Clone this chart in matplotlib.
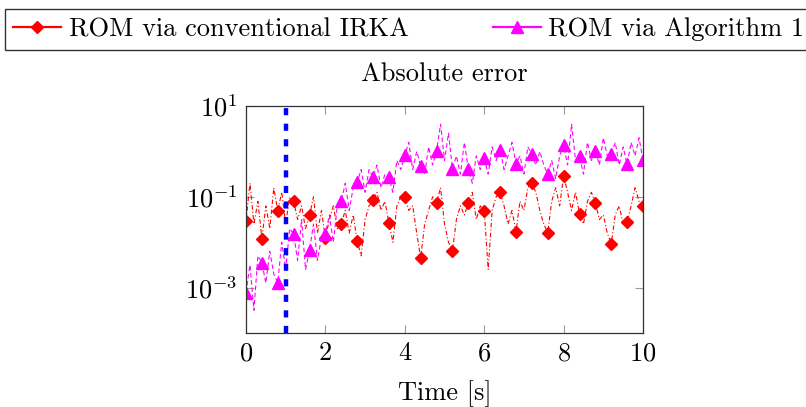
import numpy as np
import matplotlib
matplotlib.use("Agg")
import matplotlib.pyplot as plt
from matplotlib.lines import Line2D
from matplotlib.ticker import FixedLocator, NullLocator

# time grid of the stored samples [s]
t = np.arange(0, 101) * 0.1

# log10 of absolute error, ROM via conventional IRKA
irka_log10 = [
    -1.53, -0.70, -1.60, -1.10, -1.92, -1.20, -1.70, -0.80, -1.31, -0.90,
    -1.60, -1.00, -1.10, -1.50, -1.20, -1.70, -1.41, -1.00, -1.80, -1.30,
    -1.91, -1.50, -1.20, -1.70, -1.59, -1.30, -1.80, -1.40, -1.97, -2.30,
    -1.50, -1.20, -1.08, -0.90, -1.30, -1.10, -1.57, -2.00, -1.20, -1.00,
    -1.00, -1.30, -1.20, -1.80, -2.35, -1.60, -1.30, -1.00, -1.14, -0.80,
    -1.60, -2.00, -2.19, -1.50, -1.20, -1.40, -1.14, -0.90, -1.50, -1.20,
    -1.31, -2.60, -1.30, -1.00, -0.90, -1.20, -1.60, -1.30, -1.77, -1.10,
    -1.30, -0.80, -0.70, -0.90, -1.30, -1.60, -1.79, -1.10, -0.80, -1.20,
    -0.54, -0.90, -1.30, -0.90, -1.37, -1.60, -1.10, -0.90, -1.13, -1.50,
    -1.40, -1.80, -2.03, -1.40, -1.20, -1.60, -1.55, -1.20, -0.80, -1.10,
    -1.20,
]

# log10 of absolute error, ROM via Algorithm 1
alg1_log10 = [
    -3.11, -2.50, -3.50, -2.30, -2.45, -2.90, -2.20, -2.70, -2.89, -2.00,
    -2.60, -1.70, -1.82, -2.40, -1.50, -2.60, -2.18, -1.60, -2.40, -1.90,
    -1.82, -1.40, -2.00, -1.20, -1.10, -0.70, -1.30, -0.80, -0.68, -0.40,
    -0.90, -0.40, -0.57, -0.30, -0.80, -0.50, -0.57, -0.90, -0.20, -0.40,
    -0.08, 0.20, -0.40, 0.00, -0.32, -0.50, 0.10, -0.30, 0.01, 0.60,
    -0.20, 0.40, -0.38, -0.10, -0.50, 0.20, -0.39, -0.70, -0.10, -0.40,
    -0.15, -0.50, 0.10, -0.20, 0.04, -0.40, -0.10, 0.20, -0.27, -0.10,
    -0.50, 0.10, -0.06, -0.30, 0.00, -0.30, -0.50, -0.20, -0.60, -0.10,
    0.15, -0.30, 0.60, -0.20, -0.11, -0.50, 0.20, -0.20, 0.02, -0.30,
    0.30, -0.10, -0.06, 0.20, -0.30, 0.10, -0.28, 0.20, -0.10, 0.30,
    -0.20,
]

labels = ["ROM via conventional IRKA", "ROM via Algorithm 1"]
t_switch = 1.0
x_ticks = [0, 2, 4, 6, 8, 10]
y_ticks = [1e-3, 1e-1, 1e1]
y_tick_labels = [r"$10^{-3}$", r"$10^{-1}$", r"$10^{1}$"]

irka_err = 10.0 ** np.array(irka_log10)
alg1_err = 10.0 ** np.array(alg1_log10)

plt.rcParams["font.family"] = "serif"
plt.rcParams["font.serif"] = ["cmr10", "DejaVu Serif"]
plt.rcParams["mathtext.fontset"] = "cm"
plt.rcParams["axes.formatter.use_mathtext"] = True
fs = 19

fig = plt.figure(figsize=(8.06, 4.07), dpi=100)
ax = fig.add_axes([0.3052, 0.1818, 0.4926, 0.5577])

red = "#ff0000"
mag = "#ff00ff"
ax.plot(t, irka_err, color=red, lw=0.8, dashes=(4, 2, 1, 2),
        marker="D", markersize=6.5, markevery=4)
ax.plot(t, alg1_err, color=mag, lw=0.8, dashes=(4, 2.5),
        marker="^", markersize=8, markevery=4)
ax.axvline(t_switch, color="#0000ff", lw=3.2, dashes=(1.6, 1.9))

ax.set_yscale("log")
ax.set_xlim(0, 10)
ax.set_ylim(1e-4, 1e1)
ax.xaxis.set_major_locator(FixedLocator(x_ticks))
ax.yaxis.set_major_locator(FixedLocator(y_ticks))
ax.yaxis.set_minor_locator(NullLocator())
ax.set_yticklabels(y_tick_labels)
ax.tick_params(direction="in", length=6, width=0.8, color="#999999",
               top=True, right=True, labelsize=fs, pad=6)
for sp in ax.spines.values():
    sp.set_linewidth(0.9)
    sp.set_color("#333333")

ax.set_title("Absolute error", fontsize=fs, pad=18)
ax.set_xlabel("Time [s]", fontsize=fs, labelpad=11)

# legend entries drawn with solid lines, as in the pgfplots legend
handles = [
    Line2D([], [], color=red, lw=1.6, marker="D", markersize=6.5),
    Line2D([], [], color=mag, lw=1.6, marker="^", markersize=8),
]
leg = fig.legend(handles=handles, labels=labels, loc="upper left", ncol=2,
                 bbox_to_anchor=(0.006, 0.978),
                 fontsize=fs, frameon=True, fancybox=False, edgecolor="black",
                 handlelength=1.8, handletextpad=0.3, borderpad=0.32,
                 columnspacing=3.2, borderaxespad=0.0)
leg.get_frame().set_linewidth(1.0)

fig.savefig("out.png", dpi=100)
